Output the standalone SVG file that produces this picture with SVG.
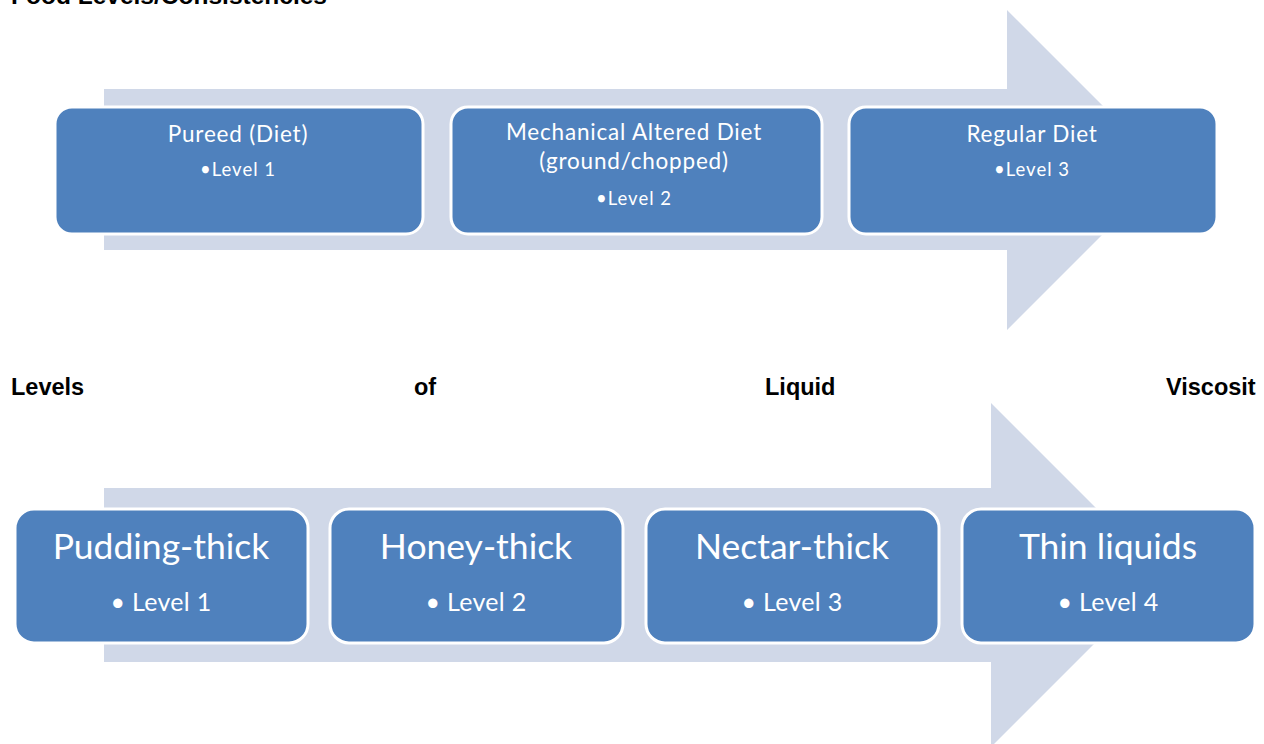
<svg xmlns="http://www.w3.org/2000/svg" width="1264" height="744" viewBox="0 0 1264 744">
  <style>
    .arrow { fill: #D0D8E8; }
    .box { fill: #4F81BD; stroke: #FFFFFF; stroke-width: 3; }
    .t { fill: #FFFFFF; font-family: Lato, "Liberation Sans", sans-serif; text-anchor: middle; }
    .head { fill: #000000; font-family: "Liberation Sans", Arial, sans-serif; font-weight: bold; font-size: 23.5px; }
    .big { font-size: 35.5px; }
    .mid { font-size: 25px; letter-spacing: 0.3px; }
    .sm1 { font-size: 22.5px; letter-spacing: 0.8px; }
    .sm2 { font-size: 18.5px; letter-spacing: 1px; }
  </style>
  <rect width="1264" height="744" fill="#FFFFFF"/>

  <!-- section heading (runs off the top edge) -->
  <text class="head" x="11" y="4" textLength="316" lengthAdjust="spacingAndGlyphs">Food Levels/Consistencies</text>

  <!-- progression arrows behind the boxes -->
  <g id="connectors">
    <polygon class="arrow" points="104,89 1007,89 1007,10 1167,170 1007,330 1007,250 104,250"/>
    <polygon class="arrow" points="104,488 991,488 991,403 1163,575 991,747 991,662 104,662"/>
  </g>

  <g id="pureed">
    <rect class="box" x="55" y="107" width="368" height="127" rx="17"/>
    <text class="t sm1" x="238" y="142">Pureed (Diet)</text>
    <text class="t sm2" x="238" y="176">•Level 1</text>
  </g>
  <g id="mechanical">
    <rect class="box" x="451" y="107" width="371" height="127" rx="17"/>
    <text class="t sm1" x="634" y="140">Mechanical Altered Diet</text>
    <text class="t sm1" x="634" y="169">(ground/chopped)</text>
    <text class="t sm2" x="634" y="205">•Level 2</text>
  </g>
  <g id="regular">
    <rect class="box" x="849" y="107" width="368" height="127" rx="17"/>
    <text class="t sm1" x="1032" y="142">Regular Diet</text>
    <text class="t sm2" x="1032" y="176">•Level 3</text>
  </g>

  <!-- liquid viscosity heading, justified across the line -->
  <g class="head">
    <text x="11" y="395">Levels</text>
    <text x="414" y="395">of</text>
    <text x="765" y="395">Liquid</text>
    <text x="1166" y="395">Viscosit</text>
  </g>

  <g id="pudding">
    <rect class="box" x="15" y="509" width="293" height="134" rx="19"/>
    <text class="t big" x="161" y="559">Pudding-thick</text>
    <text class="t mid" x="161" y="611">• Level 1</text>
  </g>
  <g id="honey">
    <rect class="box" x="330" y="509" width="293" height="134" rx="19"/>
    <text class="t big" x="476" y="559">Honey-thick</text>
    <text class="t mid" x="476" y="611">• Level 2</text>
  </g>
  <g id="nectar">
    <rect class="box" x="646" y="509" width="293" height="134" rx="19"/>
    <text class="t big" x="792" y="559">Nectar-thick</text>
    <text class="t mid" x="792" y="611">• Level 3</text>
  </g>
  <g id="thin">
    <rect class="box" x="962" y="509" width="293" height="134" rx="19"/>
    <text class="t big" x="1108" y="559">Thin liquids</text>
    <text class="t mid" x="1108" y="611">• Level 4</text>
  </g>
</svg>
